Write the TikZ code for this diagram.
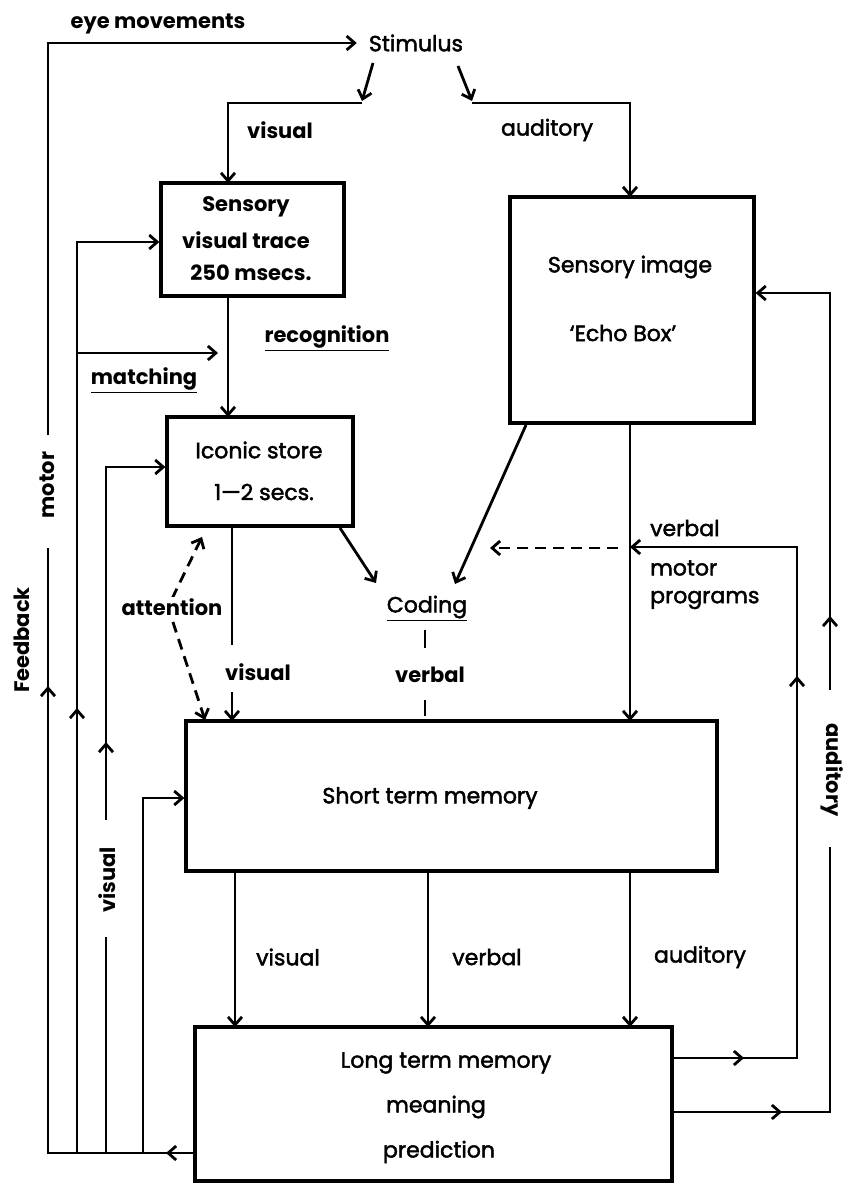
\documentclass[tikz,border=0pt]{standalone}
\usepackage{fontspec}
\setmainfont{Poppins}
\newfontfamily\medfont{Poppins}[FakeBold=2]
\usetikzlibrary{arrows.meta}
\begin{document}
\begin{tikzpicture}[x=1pt,y=-1pt,
  box/.style={draw,line width=3.3pt,inner sep=0pt},
  ln/.style={line width=2.8pt},
  tip/.tip={Straight Barb[length=8pt,width=14pt]},
  arr/.style={ln,-tip},
  dsh/.style={ln,dash pattern=on 11pt off 7pt},
  txt/.style={inner sep=0pt,font=\medfont\fontsize{22}{26}\selectfont},
  btxt/.style={inner sep=0pt,font=\fontsize{21}{26}\selectfont\bfseries},
]
\useasboundingbox (0,0) rectangle (843,1185);
% boxes
\node[box,minimum width=183pt,minimum height=113pt] (sens) at (252.5,239.5) {};
\node[box,minimum width=186pt,minimum height=109pt] (icon) at (260,471.5) {};
\node[box,minimum width=244pt,minimum height=226pt] (echo) at (632,310) {};
\node[box,minimum width=531pt,minimum height=150pt] (stm) at (451.5,796) {};
\node[box,minimum width=477pt,minimum height=154pt] (ltm) at (433.5,1104) {};
% texts
\node[txt] (stim) at (416,43) {Stimulus};
\node[btxt] (eyelab) at (158,24) {eye movements};
\node[btxt] (vis1) at (280,130) {visual};
\node[txt] (aud1) at (547,130) {auditory};
\node[btxt] (s1) at (246,207) {Sensory};
\node[btxt] (s2) at (246,240) {visual trace};
\node[btxt] (s3) at (251,273) {250 msecs.};
\node[txt] (e1) at (630,267) {Sensory image};
\node[txt] (e2) at (623,333) {‘Echo Box’};
\node[txt] (i1) at (259,450) {Iconic store};
\node[txt] (i2) at (264,492) {1—2 secs.};
\node[btxt] (recog) at (327,338) {\underline{recognition}};
\node[btxt] (match) at (144,380) {\underline{matching}};
\node[txt] (coding) at (427,608) {\underline{Coding}};
\node[btxt] (verb1) at (430,675) {verbal};
\node[txt,anchor=west] (verb2) at (650,528) {verbal};
\node[txt,anchor=west] (motor2) at (650,568) {motor};
\node[txt,anchor=west] (prog) at (650,600) {programs};
\node[btxt] (vis2) at (258,672) {visual};
\node[txt] (stmt) at (430,798) {Short term memory};
\node[txt] (vis3) at (288,957) {visual};
\node[txt] (verb3) at (487,957) {verbal};
\node[txt] (aud3) at (700,957) {auditory};
\node[txt] (l1) at (446,1063) {Long term memory};
\node[txt] (l2) at (436,1107) {meaning};
\node[txt] (l3) at (439,1152) {prediction};
\node[btxt,rotate=90] (feed) at (22,640) {Feedback};
\node[btxt,rotate=90] (motor1) at (47,485) {motor};
\node[btxt,rotate=90] (vis4) at (107,880) {visual};
\node[btxt,rotate=-90] (aud4) at (832,770) {auditory};
% eye movements / motor feedback
\draw[arr] (48,435) -- (48,43) -- ([xshift=-12pt]stim.west);
\draw[ln] (ltm.west |- 0,1153) -- (48,1153) -- (48,548);
\draw[arr] (182,1153) -- (166,1153);
\draw[arr] (48,700) -- (48,686);
% x=77
\draw[arr] (77,1153) -- (77,242) -- (sens.west |- 0,242);
\draw[arr] (77,353) -- (218,353);
\draw[arr] (77,722) -- (77,708);
% x=106
\draw[ln] (106,1153) -- (106,937);
\draw[arr] (106,820) -- (106,467) -- (icon.west |- 0,467);
\draw[arr] (106,756) -- (106,742);
% x=143
\draw[arr] (143,1153) -- (143,798) -- (stm.west |- 0,798);
% stimulus
\draw[arr] (373,63) -- (362,101);
\draw[arr] (362,103) -- (228,103) -- (228,183);
\draw[arr] (458,66) -- (472,101);
\draw[arr] (472,103) -- (630,103) -- (630,197);
% sensory to iconic
\draw[arr] (228,296) -- (228,417);
% iconic to stm
\draw[ln] (232,526) -- (232,645);
\draw[arr] (232,692) -- (232,721);
% attention
\draw[dsh,tip-tip] (202,537) -- (168,607) -- (205,720);
\node[btxt,fill=white,inner sep=2pt] (attn) at (172,607) {attention};
% coding
\draw[arr] (340,528) -- (376,583);
\draw[arr] (526,425) -- (455,584);
\draw[ln] (425,630) -- (425,648);
\draw[ln] (425,700) -- (425,716);
% echo to stm
\draw[arr] (630,423) -- (630,721);
% verbal motor programs loop
\draw[arr] (ltm.east |- 0,1058) -- (797,1058) -- (797,547) -- (630,547);
\draw[arr] (728,1058) -- (744,1058);
\draw[arr] (797,690) -- (797,676);
\draw[dsh,-tip] (618,548) -- (490,548);
% auditory loop
\draw[ln] (ltm.east |- 0,1112) -- (830,1112) -- (830,847);
\draw[arr] (830,690) -- (830,293) -- (echo.east |- 0,293);
\draw[arr] (766,1112) -- (782,1112);
\draw[arr] (830,630) -- (830,616);
% stm to ltm
\draw[arr] (235,871) -- (235,1027);
\draw[arr] (428,871) -- (428,1027);
\draw[arr] (630,871) -- (630,1027);
\end{tikzpicture}
\end{document}
